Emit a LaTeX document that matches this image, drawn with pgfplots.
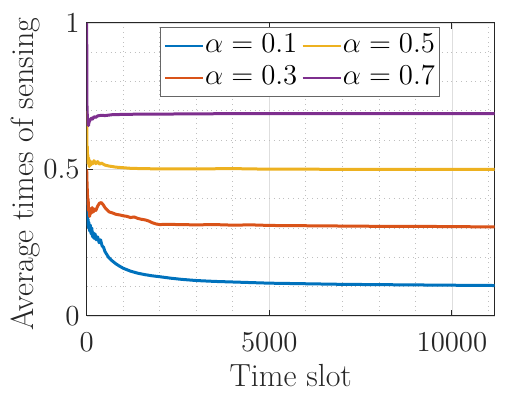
\documentclass[border=0pt]{standalone}
\usepackage{pgfplots}
\pgfplotsset{compat=1.18}

\definecolor{mblue}{rgb}{0,0.447,0.741}
\definecolor{morange}{rgb}{0.850,0.325,0.098}
\definecolor{myellow}{rgb}{0.929,0.694,0.125}
\definecolor{mpurple}{rgb}{0.494,0.184,0.556}
\definecolor{axgray}{rgb}{0.15,0.15,0.15}

\begin{document}
\begin{tikzpicture}
\begin{axis}[
    scale only axis,
    width=204pt,
    height=146.5pt,
    xmin=0, xmax=11170,
    ymin=0, ymax=1,
    xtick={0,5000,10000},
    ytick={0,0.5,1},
    yticklabels={0,0.5,1},
    scaled x ticks=false,
    xticklabel style={anchor=base, yshift=-18pt,
        /pgf/number format/fixed, /pgf/number format/1000 sep={}},
    minor xtick={1000,2000,...,11000},
    minor ytick={0.1,0.2,...,0.9},
    grid=both,
    major grid style={draw=black!13, line width=0.4pt},
    minor grid style={draw=black!25, dotted, line width=0.4pt},
    minor tick length=0pt,
    major tick length=3pt,
    tick align=inside,
    axis line style={draw=axgray, line width=0.5pt},
    tick style={draw=axgray, line width=0.5pt},
    ticklabel style={font=\fontsize{14.5}{16}\selectfont, text=axgray},
    xlabel={Time slot},
    ylabel={Average times of sensing},
    every axis x label/.style={at={(axis description cs:0.5,-0.242)}, anchor=base,
        font=\fontsize{16}{18}\selectfont, text=axgray},
    every axis y label/.style={at={(axis description cs:-0.1315,0.484)}, anchor=base, rotate=90,
        font=\fontsize{16}{18}\selectfont, text=axgray},
    legend columns=2,
    transpose legend,
    legend style={at={(0.5224,0.986)}, anchor=north,
        font=\fontsize{13.3}{15}\selectfont,
        draw=black!60, line width=0.5pt,
        inner xsep=1.5pt, inner ysep=3.5pt, row sep=4.5pt,
        nodes={inner xsep=0.5pt, inner ysep=0pt, text height=9pt, text depth=2.5pt},
        /tikz/every even column/.append style={column sep=1.5pt}},
    legend image code/.code={\draw[#1, line width=1.3pt] (0pt,0pt) -- (19pt,0pt);},
    every axis plot/.append style={line width=1.5pt, line join=round},
]
\addplot[mblue] coordinates {
(0,0.40) (10,0.36) (20,0.34) (30,0.31) (40,0.33) (50,0.30) (60,0.32) (80,0.29)
(100,0.31) (120,0.28) (140,0.30) (160,0.27) (180,0.285) (200,0.265) (230,0.28)
(260,0.26) (300,0.27) (340,0.25) (380,0.26) (420,0.24) (460,0.235) (500,0.22)
(550,0.21) (600,0.20) (700,0.188) (800,0.178) (900,0.170) (1000,0.163)
(1200,0.153) (1400,0.146) (1600,0.141) (1800,0.137) (2000,0.134) (2300,0.129)
(2600,0.125) (3000,0.121) (3500,0.118) (4000,0.116) (4500,0.114) (5000,0.112)
(6000,0.110) (7000,0.108) (8000,0.107) (9000,0.106) (10000,0.105) (11170,0.104)
};
\addlegendentry{$\alpha=0.1$}
\addplot[morange] coordinates {
(0,0.50) (10,0.45) (20,0.42) (30,0.38) (40,0.40) (50,0.36) (60,0.37) (80,0.34)
(100,0.36) (120,0.35) (150,0.37) (180,0.355) (210,0.365) (250,0.36) (300,0.375)
(350,0.385) (400,0.387) (450,0.38) (500,0.37) (560,0.362) (620,0.355) (700,0.352)
(800,0.347) (900,0.345) (1000,0.342) (1100,0.34) (1200,0.336) (1300,0.338)
(1400,0.333) (1500,0.330) (1600,0.328) (1700,0.324) (1800,0.318) (1900,0.314)
(2000,0.312) (2200,0.313) (2500,0.312) (3000,0.311) (3500,0.312) (4000,0.310)
(4500,0.311) (5000,0.309) (6000,0.308) (7000,0.307) (8000,0.306) (9000,0.306)
(10000,0.305) (11170,0.304)
};
\addlegendentry{$\alpha=0.3$}
\addplot[myellow] coordinates {
(0,0.70) (5,0.60) (10,0.56) (15,0.58) (20,0.53) (30,0.55) (40,0.52) (50,0.54)
(70,0.51) (90,0.53) (110,0.515) (140,0.525) (170,0.52) (200,0.53) (250,0.52)
(300,0.527) (350,0.518) (400,0.522) (500,0.515) (600,0.512) (700,0.510)
(800,0.508) (1000,0.506) (1200,0.504) (1500,0.503) (2000,0.502) (3000,0.502)
(4000,0.503) (5000,0.501) (6000,0.501) (8000,0.500) (10000,0.500) (11170,0.500)
};
\addlegendentry{$\alpha=0.5$}
\addplot[mpurple] coordinates {
(0,1.0) (3,0.85) (6,0.74) (10,0.70) (20,0.68) (30,0.66) (40,0.655) (50,0.65)
(60,0.66) (80,0.665) (100,0.67) (130,0.675) (160,0.672) (200,0.68) (250,0.678)
(300,0.683) (400,0.685) (500,0.684) (700,0.687) (1000,0.688) (1500,0.689)
(2000,0.689) (3000,0.690) (5000,0.691) (7000,0.691) (9000,0.691) (11170,0.691)
};
\addlegendentry{$\alpha=0.7$}
\end{axis}
\pgfresetboundingbox
\path (current axis.south west) ++(-43.35pt,-41.5pt) rectangle ++(266pt,199.5pt);
\end{tikzpicture}
\end{document}
